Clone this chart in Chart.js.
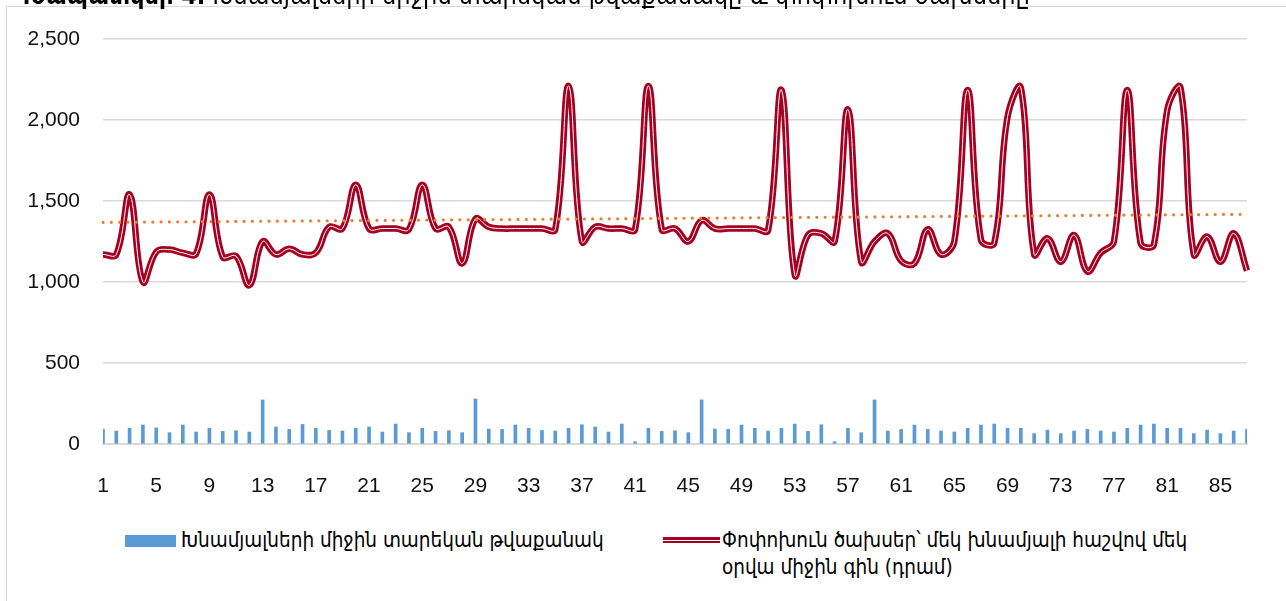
<!DOCTYPE html>
<html>
<head>
<meta charset="utf-8">
<script src="https://cdn.jsdelivr.net/npm/chart.js@4.4.1/dist/chart.umd.min.js"></script>
<style>
  html, body { margin: 0; padding: 0; background: #fff; width: 1286px; height: 601px; overflow: hidden; }
  .frame { position: absolute; left: 6px; top: 6px; width: 1300px; height: 620px; border: 1px solid #d9d9d9; box-sizing: border-box; }
  .title { position: absolute; left: 15px; top: -17px; z-index: 2; white-space: nowrap; color: #000;
    font-family: "DejaVu Sans Condensed", "DejaVu Sans", sans-serif; font-size: 25px; line-height: 25px; }
  #chart { position: absolute; left: 0; top: 0; }
  .lg-text { position: absolute; white-space: nowrap; color: #000;
    font-family: "DejaVu Sans Condensed", "DejaVu Sans", sans-serif; font-size: 20.5px; line-height: 27px; }
  .lg-box { position: absolute; left: 125px; top: 535px; width: 51px; height: 12px; background: #5B9BD5; }
  .lg-line { position: absolute; left: 663px; top: 537px; width: 57px; height: 6px; background: #A50021; }
  .lg-line::after { content: ""; position: absolute; left: 0; right: 0; top: 2.5px; height: 1px; background: #fff; }
</style>
</head>
<body>
<div class="title"><b>Գծապատկեր 4.</b> Խնամյալների միջին տարեկան թվաքանակը և փոփոխուն ծախսերը</div>
<div class="frame"></div>
<canvas id="chart" width="1286" height="520"></canvas>
<div class="lg-box"></div>
<div class="lg-text" style="left:181px; top:527px;">Խնամյալների միջին տարեկան թվաքանակ</div>
<div class="lg-line"></div>
<div class="lg-text" style="left:722px; top:527px;">Փոփոխուն ծախսեր՝ մեկ խնամյալի հաշվով մեկ<br>օրվա միջին գին (դրամ)</div>
<script>
// categories (institution numbers)
const categories = [
  "1","2","3","4","5","6","7","8","9","10","11","12","13","14","15","16","17","18","19","20",
  "21","22","23","24","25","26","27","28","29","30","31","32","33","34","35","36","37","38","39","40",
  "41","42","43","44","45","46","47","48","49","50","51","52","53","54","55","56","57","58","59","60",
  "61","62","63","64","65","66","67","68","69","70","71","72","73","74","75","76","77","78","79","80",
  "81","82","83","84","85","86","87"
];
const shownTicks = ["1","5","9","13","17","21","25","29","33","37","41","45","49","53","57","61","65","69","73","77","81","85"];

// average yearly number of clients (bars)
const clients = [
  90, 80, 97, 117, 99, 70, 117, 74, 97, 78, 82, 74, 272, 105, 90, 121, 97, 84, 80, 97,
  105, 74, 123, 70, 97, 78, 82, 70, 278, 92, 90, 117, 97, 84, 80, 97, 119, 105, 74, 123,
  14, 97, 78, 82, 70, 272, 92, 90, 117, 97, 80, 97, 123, 78, 119, 14, 97, 70, 272, 80,
  90, 117, 90, 80, 74, 97, 117, 123, 97, 97, 64, 86, 64, 80, 90, 80, 74, 97, 117, 123,
  97, 97, 64, 86, 64, 80, 90
];

// variable costs per client per day (line)
const dailyCost = [
  1170, 1170, 1540, 1000, 1185, 1200, 1180, 1175, 1540, 1155, 1160, 980, 1250, 1170, 1205, 1170, 1180, 1340, 1330, 1600,
  1330, 1330, 1330, 1325, 1600, 1330, 1340, 1115, 1390, 1340, 1330, 1330, 1330, 1330, 1325, 2210, 1250, 1340, 1330, 1330,
  1325, 2210, 1325, 1330, 1250, 1380, 1330, 1330, 1330, 1330, 1320, 2185, 1045, 1290, 1300, 1250, 2065, 1125, 1250, 1300,
  1130, 1115, 1325, 1170, 1250, 2185, 1260, 1240, 2020, 2200, 1170, 1270, 1125, 1290, 1065, 1180, 1250, 2185, 1240, 1230,
  2060, 2200, 1170, 1280, 1125, 1300, 1070
];

// linear trend end points (first and last category)
const trendEnds = [1368, 1418];

const tickFont = { family: "'Liberation Sans', Arial, sans-serif", size: 21 };

const ctx = document.getElementById("chart").getContext("2d");
new Chart(ctx, {
  type: "bar",
  data: {
    labels: categories,
    datasets: [
      {
        type: "line",
        data: [
          { x: categories[0], y: trendEnds[0] },
          { x: categories[categories.length - 1], y: trendEnds[1] },
        ],
        borderColor: "#ED7D31",
        borderWidth: 3.2,
        borderDash: [0, 8.3],
        borderCapStyle: "round",
        pointRadius: 0,
        tension: 0,
        order: 0,
      },
      {
        type: "line",
        data: dailyCost,
        borderColor: "#ffffff",
        borderWidth: 1,
        pointRadius: 0,
        tension: 0.4,
        order: 1,
      },
      {
        type: "line",
        data: dailyCost,
        borderColor: "#A50021",
        borderWidth: 6.5,
        pointRadius: 0,
        tension: 0.4,
        order: 2,
      },
      {
        type: "bar",
        data: clients,
        backgroundColor: "#5B9BD5",
        barThickness: 3,
        order: 3,
      },
    ],
  },
  options: {
    responsive: false,
    animation: false,
    layout: { padding: { left: 0, top: 39, right: 39, bottom: 0 } },
    plugins: { legend: { display: false }, tooltip: { enabled: false } },
    scales: {
      x: {
        offset: false,
        grid: { display: false, drawTicks: false },
        border: { color: "#d9d9d9", width: 2 },
        ticks: {
          autoSkip: false,
          maxRotation: 0,
          padding: 30,
          color: "#111",
          font: tickFont,
          callback: function (v, i) {
            const l = categories[i];
            return shownTicks.includes(l) ? l : "";
          },
        },
        afterFit: function (s) { s.height = 76; },
      },
      y: {
        min: 0,
        max: 2500,
        ticks: { stepSize: 500, padding: 23, color: "#111", font: tickFont },
        grid: { color: "#d9d9d9", lineWidth: 1.5, drawTicks: false },
        border: { display: false },
        afterFit: function (s) { s.width = 103; },
      },
    },
  },
});
</script>
</body>
</html>
